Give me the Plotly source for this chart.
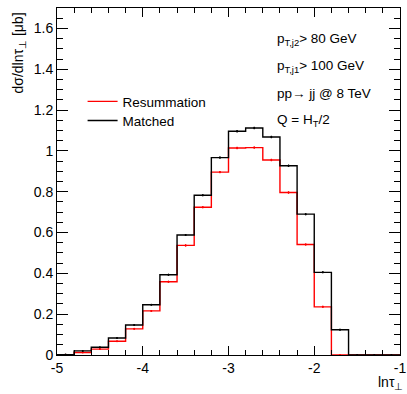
import plotly.graph_objects as go

# ---- data ----
bin_edges = [-5.0, -4.8, -4.6, -4.4, -4.2, -4.0, -3.8, -3.6, -3.4, -3.2, -3.0,
             -2.8, -2.6, -2.4, -2.2, -2.0, -1.8, -1.6, -1.4, -1.2, -1.0]
matched = [0.002, 0.020, 0.038, 0.083, 0.147, 0.246, 0.393, 0.588, 0.783, 0.967,
           1.096, 1.112, 1.068, 0.927, 0.690, 0.405, 0.124, 0.0, 0.0, 0.0]
resummation = [0.001, 0.012, 0.029, 0.067, 0.128, 0.216, 0.359, 0.537, 0.724, 0.896,
               1.014, 1.016, 0.955, 0.796, 0.541, 0.236, 0.0, 0.0, 0.0, 0.0]
matched_err = [0.001, 0.002, 0.003, 0.003, 0.004, 0.004, 0.005, 0.005, 0.005, 0.006,
               0.006, 0.006, 0.006, 0.006, 0.005, 0.005, 0.004, 0.0, 0.0, 0.0]
resum_err = [0.001, 0.002, 0.003, 0.003, 0.004, 0.004, 0.005, 0.005, 0.005, 0.006,
             0.006, 0.006, 0.006, 0.006, 0.005, 0.005, 0.0, 0.0, 0.0, 0.0]
x_tick_vals = [-5, -4, -3, -2, -1]
x_tick_text = ["-5", "-4", "-3", "-2", "-1"]
info_lines = ["p<sub>T,j2</sub>&gt; 80 GeV", "p<sub>T,j1</sub>&gt; 100 GeV",
              "pp→ jj @ 8 TeV", "Q = H<sub>T</sub>/2"]

FONT = "Liberation Sans, Arial, Helvetica, sans-serif"

centers = [(bin_edges[i] + bin_edges[i + 1]) / 2 for i in range(len(bin_edges) - 1)]


def step_xy(vals):
    return bin_edges, list(vals) + [vals[-1]]


fig = go.Figure()
for name, vals, errs, col, lg in [("Resummation", resummation, resum_err, "#ff0000", "legend"),
                                  ("Matched", matched, matched_err, "#000000", "legend2")]:
    xs, ys = step_xy(vals)
    fig.add_trace(go.Scatter(x=xs, y=ys, mode="lines", line_shape="hv",
                             line=dict(color=col, width=1.4), name=name, legend=lg))
    fig.add_trace(go.Scatter(x=centers, y=vals, mode="markers", showlegend=False,
                             marker=dict(color=col, size=2),
                             error_y=dict(type="data", array=errs, color=col,
                                          thickness=1.2, width=0)))

leg_common = dict(xanchor="left", yanchor="top", bgcolor="rgba(0,0,0,0)",
                  font=dict(size=13.5, family=FONT))
fig.update_layout(
    width=407, height=394,
    margin=dict(l=57, r=7, t=8, b=39, autoexpand=False),
    paper_bgcolor="white", plot_bgcolor="white",
    font=dict(family=FONT, size=14, color="black"),
    showlegend=True,
    legend=dict(x=0.0746, y=0.775, **leg_common),
    legend2=dict(x=0.0746, y=0.72, **leg_common),
)
fig.update_xaxes(range=[-5, -1], tickvals=x_tick_vals, ticktext=x_tick_text,
                 ticks="inside", ticklen=9, tickwidth=1, tickcolor="black",
                 showline=True, linecolor="black", linewidth=1, mirror="allticks",
                 showgrid=False, zeroline=False, automargin=False,
                 minor=dict(ticks="inside", dtick=0.2, ticklen=5, tickcolor="black"),
                 tickfont=dict(size=14))
fig.update_yaxes(range=[0, 1.7], dtick=0.2, tick0=0,
                 ticks="inside", ticklen=11, tickwidth=1, tickcolor="black",
                 showline=True, linecolor="black", linewidth=1, mirror="allticks",
                 showgrid=False, zeroline=False, automargin=False,
                 minor=dict(ticks="inside", dtick=0.05, ticklen=6, tickcolor="black"),
                 tickfont=dict(size=14))

# axis titles
fig.add_annotation(text="dσ/dlnτ<sub>⊥</sub> [μb]", textangle=-90, xref="paper", yref="paper",
                   x=-0.111, y=0.994, xanchor="center", yanchor="top", showarrow=False,
                   font=dict(size=14))
fig.add_annotation(text="lnτ<sub>⊥</sub>", xref="paper", yref="paper",
                   x=1.016, y=-0.08, xanchor="right", yanchor="middle", showarrow=False,
                   font=dict(size=14))

info_y = [0.908, 0.830, 0.754, 0.677]
for t, yy in zip(info_lines, info_y):
    fig.add_annotation(text=t, xref="paper", yref="paper", x=0.637, y=yy,
                       xanchor="left", yanchor="middle", showarrow=False,
                       font=dict(size=13.5))

fig.write_html("out.html", config={"displayModeBar": False},
               post_script="document.body.style.margin='0';document.body.style.padding='0';")
